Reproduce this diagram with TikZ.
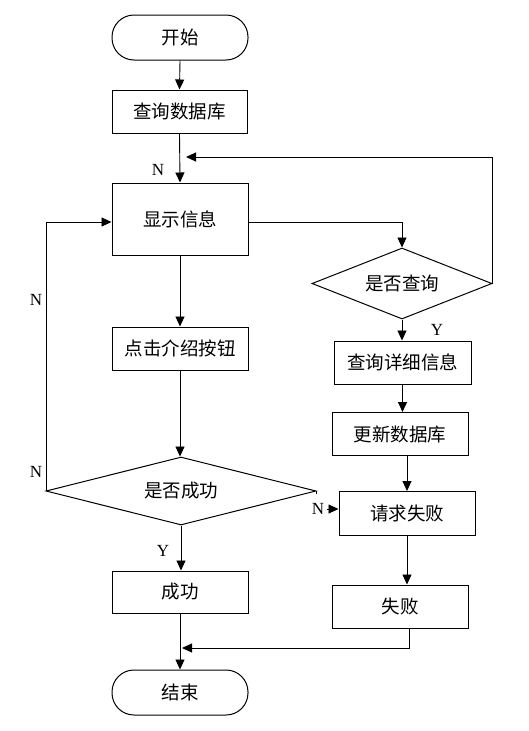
\documentclass[tikz,border=0pt]{standalone}
\usepackage{fontspec}
\setmainfont{Liberation Serif}
\newfontfamily\cjk{Noto Sans CJK SC}
\usetikzlibrary{shapes.geometric,arrows.meta}
\begin{document}
\begin{tikzpicture}[x=1pt,y=-1pt,
  every node/.style={font=\cjk\fontsize{18.5}{22}\selectfont},
  box/.style={draw,line width=1pt,rectangle,inner sep=0pt},
  term/.style={box,rounded corners=22pt},
  dec/.style={draw,line width=1pt,diamond,inner sep=0pt},
  arr/.style={line width=0.9pt,-{Triangle[length=10pt,width=9pt]}},
  ln/.style={line width=0.9pt},
  lab/.style={font=\fontsize{17}{19}\selectfont,inner sep=0pt}]
\fill[white] (0,0) rectangle (529,731);
\useasboundingbox (0,0) rectangle (529,731);
\node[term,minimum width=136pt,minimum height=45pt] (start) at (180,37.5) {开始};
\node[box,minimum width=135pt,minimum height=43pt] (q) at (179.5,111.5) {查询数据库};
\node[box,minimum width=136pt,minimum height=72pt] (show) at (180,219) {显示信息};
\node[box,minimum width=136pt,minimum height=43pt] (click) at (180,348.5) {点击介绍按钮};
\node[dec,aspect=4,minimum width=270pt,minimum height=68pt] (dia1) at (181,491) {是否成功};
\node[box,minimum width=136pt,minimum height=42pt] (succ) at (180,592) {成功};
\node[term,minimum width=136pt,minimum height=45pt] (end) at (180,692.5) {结束};
\node[dec,aspect=2.5,minimum width=180pt,minimum height=71pt] (dia2) at (402,283.5) {是否查询};
\node[box,minimum width=137pt,minimum height=43pt] (detail) at (402.5,362.5) {查询详细信息};
\node[box,minimum width=136pt,minimum height=43pt] (update) at (400,434) {更新数据库};
\node[box,minimum width=136pt,minimum height=44pt] (reqfail) at (407,513.5) {请求失败};
\node[box,minimum width=136pt,minimum height=43pt] (fail) at (400,606.5) {失败};
% connectors
\draw[arr] (start.south) -- (q.north);
\draw[arr] (q.south) -- (show.north);
\node[lab] (n1) at (158,170) {N};
\coordinate (lp) at (186,157);
\draw[arr] (dia2.east) |- (lp);
\draw[arr] ([yshift=-3pt]show.east) -| (dia2.north);
\draw[arr] (dia2.south) -- (dia2.south |- detail.north);
\node[lab] (y1) at (437,330) {Y};
\draw[arr] (detail.south) -- (detail.south |- update.north);
\draw[arr] (reqfail.north |- update.south) -- (reqfail.north);
\draw[arr] (reqfail.south) -- (reqfail.south |- fail.north);
\coordinate (mg) at (182,648);
\draw[arr] ([xshift=9pt]fail.south) |- (mg);
\draw[arr] (succ.south) -- (end.north);
\draw[arr] (dia1.south) -- (dia1.south |- succ.north);
\node[lab] (y2) at (163,551) {Y};
\draw[arr] (show.south) -- (click.north);
\draw[arr] (click.south) -- (click.south |- dia1.north);
\draw[arr] ([xshift=1pt]dia1.west) |- ([yshift=-3pt]show.west);
\node[lab] (n2) at (36,300) {N};
\node[lab] (n3) at (36,472) {N};
\draw[ln] (dia1.east) -- ++(0,3);
\node[lab] (n4) at (318,509) {N};
\coordinate (ns) at (327,509);
\draw[arr] (ns) -- (reqfail.west |- ns);
\end{tikzpicture}
\end{document}
